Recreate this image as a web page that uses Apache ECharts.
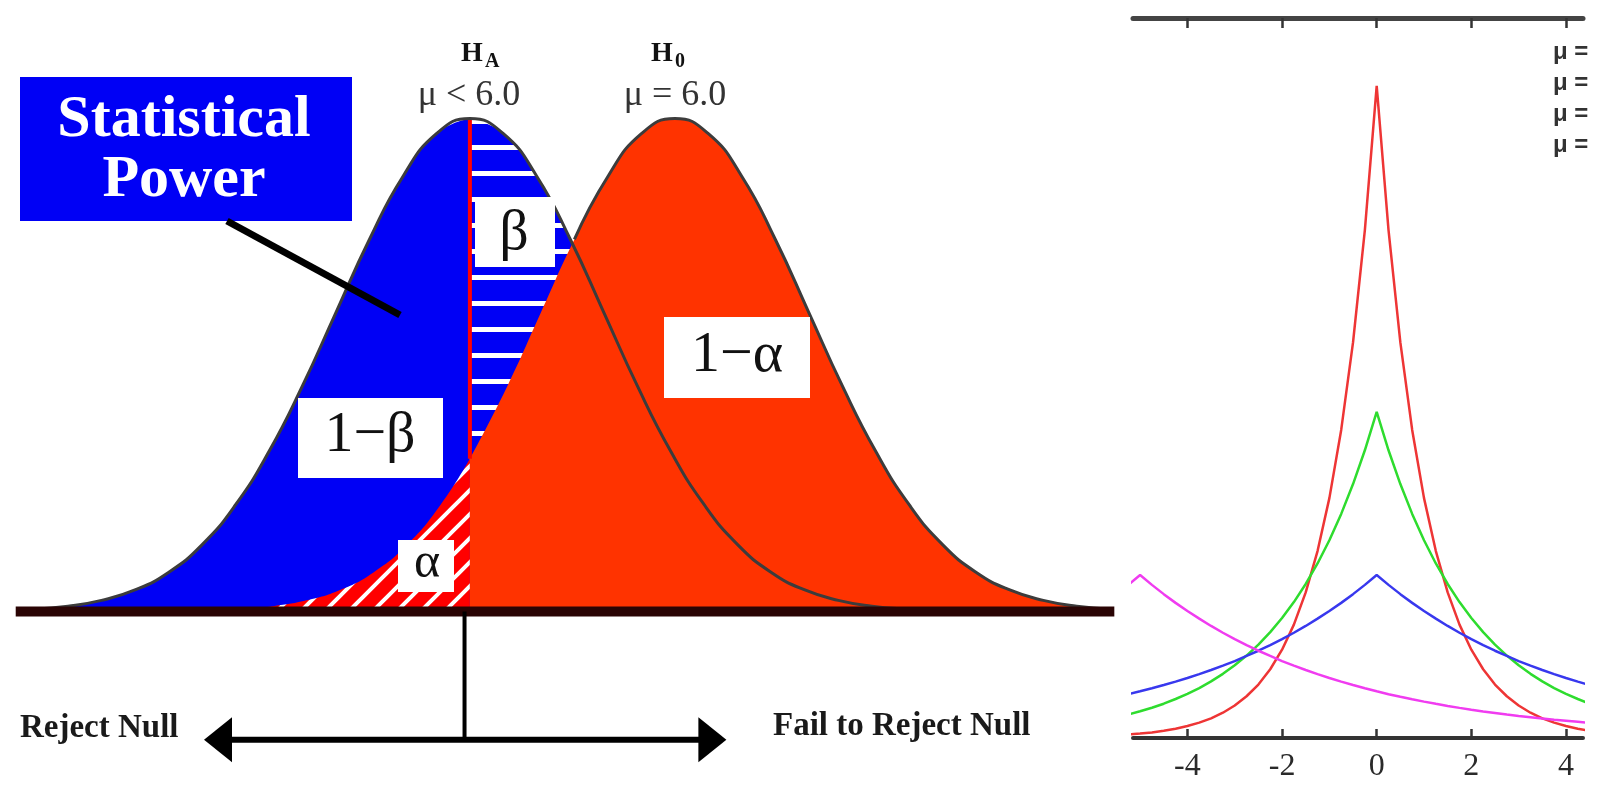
<!DOCTYPE html>
<html><head><meta charset="utf-8">
<script src="https://cdn.jsdelivr.net/npm/echarts@6/dist/echarts.min.js"></script>
<style>html,body{margin:0;padding:0;background:#fff}#c{width:1600px;height:800px}</style>
</head><body><div id="c"></div>
<script>
// ---------- Left panel: hypothesis test diagram (x in sigma units, H0 mean 6.0) ----------
const haX = [0.72,0.97,1.22,1.47,1.72,1.97,2.22,2.47,2.72,2.97,3.22,3.47,3.72,3.97,4.22,4.47,4.72,4.97,5.22,5.47,5.72,5.97,6.22,6.47,6.72,6.97,7.22,7.47,7.72,7.97,8.22];
const haY = [0.0004,0.0009,0.0020,0.0044,0.0091,0.0175,0.0317,0.0540,0.0863,0.1295,0.1826,0.2420,0.3011,0.3521,0.3867,0.3989,0.3867,0.3521,0.3011,0.2420,0.1826,0.1295,0.0863,0.0540,0.0317,0.0175,0.0091,0.0044,0.0020,0.0009,0.0004];
const h0X = [2.25,2.5,2.75,3.0,3.25,3.5,3.75,4.0,4.25,4.47,4.75,5.0,5.25,5.5,5.75,6.0,6.25,6.5,6.75,7.0,7.25,7.5,7.75,8.0,8.25,8.5,8.75,9.0,9.25,9.5];
const h0Y = [0.0004,0.0009,0.0020,0.0044,0.0091,0.0175,0.0317,0.0540,0.0863,0.1237,0.1826,0.2420,0.3011,0.3521,0.3867,0.3989,0.3867,0.3521,0.3011,0.2420,0.1826,0.1295,0.0863,0.0540,0.0317,0.0175,0.0091,0.0044,0.0020,0.0009];
const critValue = 4.47;       // decision cut-off
const h0OutlineFrom = 5.25;   // H0 outline visible from the curves' crossing on
const drawRange = [1.2, 9.25];
const baselineX = [1.08, 9.28];
const dividerX = 4.43;
const arrowLevel = -0.1036;
const arrowX = [2.59, 6.28];

// ---------- Right panel: Laplace densities ----------
const lapX = [-5.25,-5,-4.75,-4.5,-4.25,-4,-3.75,-3.5,-3.25,-3,-2.75,-2.5,-2.25,-2,-1.75,-1.5,-1.25,-1,-0.75,-0.5,-0.25,0,0.25,0.5,0.75,1,1.25,1.5,1.75,2,2.25,2.5,2.75,3,3.25,3.5,3.75,4,4.25,4.5];
const lapRed = [0.0026,0.0034,0.0043,0.0056,0.0071,0.0092,0.0118,0.0151,0.0194,0.0249,0.0320,0.0410,0.0527,0.0677,0.0869,0.1116,0.1433,0.1839,0.2362,0.3033,0.3894,0.5,0.3894,0.3033,0.2362,0.1839,0.1433,0.1116,0.0869,0.0677,0.0527,0.0410,0.0320,0.0249,0.0194,0.0151,0.0118,0.0092,0.0071,0.0056];
const lapGreen = [0.0181,0.0205,0.0232,0.0263,0.0299,0.0338,0.0383,0.0434,0.0492,0.0558,0.0632,0.0716,0.0812,0.0920,0.1042,0.1181,0.1338,0.1516,0.1718,0.1947,0.2206,0.25,0.2206,0.1947,0.1718,0.1516,0.1338,0.1181,0.1042,0.0920,0.0812,0.0716,0.0632,0.0558,0.0492,0.0434,0.0383,0.0338,0.0299,0.0263];
const lapBlue = [0.0336,0.0358,0.0381,0.0406,0.0432,0.0460,0.0490,0.0521,0.0555,0.0590,0.0629,0.0669,0.0712,0.0758,0.0807,0.0859,0.0915,0.0974,0.1036,0.1103,0.1174,0.125,0.1174,0.1103,0.1036,0.0974,0.0915,0.0859,0.0807,0.0758,0.0712,0.0669,0.0629,0.0590,0.0555,0.0521,0.0490,0.0460,0.0432,0.0406];
const lapMagenta = [0.1174,0.125,0.1174,0.1103,0.1036,0.0974,0.0915,0.0859,0.0807,0.0758,0.0712,0.0669,0.0629,0.0590,0.0555,0.0521,0.0490,0.0460,0.0432,0.0406,0.0381,0.0358,0.0336,0.0316,0.0297,0.0279,0.0262,0.0246,0.0231,0.0217,0.0204,0.0192,0.0180,0.0169,0.0159,0.0149,0.0140,0.0132,0.0124,0.0116];
const lapTicks = [-4,-2,0,2,4];
const lapLegend = ['μ =','μ =','μ =','μ ='];

// ---------- helpers ----------
const zip = (xs, ys) => xs.map((x, i) => [x, ys[i]]);
const inRange = p => p[0] >= drawRange[0] && p[0] <= drawRange[1];
const ha = zip(haX, haY).filter(inRange), h0 = zip(h0X, h0Y).filter(inRange);
const haLeft = ha.filter(p => p[0] <= critValue);
const haRight = ha.filter(p => p[0] >= critValue);
const h0Left = h0.filter(p => p[0] <= critValue);
const h0Right = h0.filter(p => p[0] >= critValue);
const h0Outline = h0.filter(p => p[0] >= h0OutlineFrom);
const h0AtCrit = h0Y[h0X.indexOf(critValue)];
const haPeak = Math.max.apply(null, haY);

function stripes() {
  const c = document.createElement('canvas'); c.width = 16; c.height = 26;
  const g = c.getContext('2d');
  g.fillStyle = '#0000f5'; g.fillRect(0, 0, 16, 26);
  g.fillStyle = '#ffffff'; g.fillRect(0, 15, 16, 5);
  return c;
}
function hatch() {
  const c = document.createElement('canvas'); c.width = 24; c.height = 24;
  const g = c.getContext('2d');
  g.fillStyle = '#ff0000'; g.fillRect(0, 0, 24, 24);
  g.strokeStyle = '#ffffff'; g.lineWidth = 4;
  g.beginPath();
  g.moveTo(0, 24); g.lineTo(24, 0);
  g.moveTo(-12, 12); g.lineTo(12, -12);
  g.moveTo(12, 36); g.lineTo(36, 12);
  g.stroke();
  return c;
}

const chart = echarts.init(document.getElementById('c'), null, {renderer: 'canvas'});
const serif = '"Liberation Serif", "Times New Roman", serif';

function txt(text, x, y, font, fill, align) {
  return {type: 'text', z: 100, silent: true,
    style: {text: text, x: x, y: y, font: font, fill: fill || '#111',
      textAlign: align || 'center', align: align || 'center',
      textVerticalAlign: 'middle', verticalAlign: 'middle'}};
}
function box(x, y, w, h, fill) {
  return {type: 'rect', z: 99, silent: true, shape: {x: x, y: y, width: w, height: h}, style: {fill: fill || '#ffffff'}};
}

const lapSeries = [
  ['μ=0, b=1', lapRed, '#ee3535'],
  ['μ=0, b=2', lapGreen, '#2edc2e'],
  ['μ=0, b=4', lapBlue, '#3838ee'],
  ['μ=-5, b=4', lapMagenta, '#f03cf0']
].map(s => ({
  name: s[0], type: 'line', xAxisIndex: 1, yAxisIndex: 1, data: zip(lapX, s[1]),
  showSymbol: false, smooth: false, lineStyle: {color: s[2], width: 2.5}, z: 3, silent: true
}));

const option = {
  animation: false,
  backgroundColor: '#ffffff',
  grid: [
    {left: 5, width: 1112, top: 6, height: 791},
    {left: 1133, right: 17, top: 18, bottom: 62}
  ],
  xAxis: [
    {gridIndex: 0, type: 'value', min: 1.0, max: 9.3, show: false},
    {gridIndex: 1, type: 'value', min: -5.15, max: 4.36, position: 'bottom',
      axisLine: {lineStyle: {color: '#333', width: 4}},
      axisTick: {inside: true, length: 9, lineStyle: {color: '#333', width: 2.5}, customValues: lapTicks},
      axisLabel: {customValues: lapTicks, margin: 13,
        color: '#2a2a2a', fontSize: 32, fontFamily: serif, formatter: v => String(v)},
      splitLine: {show: false}},
    {gridIndex: 1, type: 'value', min: -5.15, max: 4.36, position: 'top',
      axisLine: {lineStyle: {color: '#444', width: 5}},
      axisTick: {inside: true, length: 10, lineStyle: {color: '#333', width: 2.5}, customValues: lapTicks},
      axisLabel: {show: false}, splitLine: {show: false}}
  ],
  yAxis: [
    {gridIndex: 0, type: 'value', min: -0.15, max: 0.49, show: false},
    {gridIndex: 1, type: 'value', min: 0, max: 0.552, show: false}
  ],
  series: [
    {name: 'Statistical power (1−β)', type: 'line', data: haLeft, smooth: 0.5, showSymbol: false,
      lineStyle: {width: 0}, areaStyle: {color: '#0000f5', opacity: 1}, z: 1, silent: true},
    {name: 'β', type: 'line', data: haRight, smooth: 0.5, showSymbol: false,
      lineStyle: {width: 0}, areaStyle: {color: {image: stripes(), repeat: 'repeat'}, opacity: 1}, z: 2, silent: true},
    {name: 'α', type: 'line', data: h0Left, smooth: 0.5, showSymbol: false,
      lineStyle: {width: 0}, areaStyle: {color: {image: hatch(), repeat: 'repeat'}, opacity: 1}, z: 3, silent: true},
    {name: '1−α', type: 'line', data: h0Right, smooth: 0.5, showSymbol: false,
      lineStyle: {width: 0}, areaStyle: {color: '#ff3300', opacity: 1}, z: 4, silent: true},
    {name: 'critical', type: 'line', data: [[critValue, h0AtCrit], [critValue, haPeak]], showSymbol: false,
      lineStyle: {color: '#ff0000', width: 4}, z: 5, silent: true},
    {name: 'H_A curve', type: 'line', data: ha, smooth: 0.5, showSymbol: false,
      lineStyle: {color: '#3c3c3c', width: 3}, z: 6, silent: true},
    {name: 'H_0 curve', type: 'line', data: h0Outline, smooth: 0.5, showSymbol: false,
      lineStyle: {color: '#3c3c3c', width: 3}, z: 6, silent: true},
    {name: 'baseline', type: 'line', data: [[baselineX[0], 0], [baselineX[1], 0]], showSymbol: false,
      lineStyle: {color: '#2a0404', width: 10}, z: 8, silent: true},
    {name: 'divider', type: 'line', data: [[dividerX, 0], [dividerX, arrowLevel]], showSymbol: false,
      lineStyle: {color: '#000', width: 4}, z: 8, silent: true},
    {name: 'decision arrow', type: 'line', showSymbol: true, silent: true, z: 8,
      lineStyle: {color: '#000', width: 6}, itemStyle: {color: '#000'},
      data: [
        {value: [arrowX[0], arrowLevel], symbol: 'path://M0,5 L10,0 L10,10 Z', symbolSize: [28, 45]},
        {value: [arrowX[1], arrowLevel], symbol: 'path://M10,5 L0,0 L0,10 Z', symbolSize: [28, 45]}
      ]}
  ].concat(lapSeries),
  graphic: [
    box(20, 77, 332, 144, '#0000f5'),
    txt('Statistical', 184, 120, 'bold 60px ' + serif, '#ffffff'),
    txt('Power', 184, 180, 'bold 60px ' + serif, '#ffffff'),
    {type: 'line', z: 100, silent: true, shape: {x1: 227, y1: 221, x2: 400, y2: 315}, style: {stroke: '#000', lineWidth: 7}},
    box(475, 197, 80, 70), txt('β', 514, 234, '58px ' + serif, '#111'),
    box(298, 398, 145, 80), txt('1−β', 370, 436, '58px ' + serif, '#111'),
    box(664, 317, 146, 81), txt('1−α', 737, 356, '58px ' + serif, '#111'),
    box(398, 540, 56, 52), txt('α', 427, 564, '50px ' + serif, '#111'),
    txt('H', 472, 54, 'bold 28px ' + serif, '#111'),
    txt('A', 485, 62, 'bold 20px ' + serif, '#111', 'left'),
    txt('μ < 6.0', 469, 96, '36px ' + serif, '#333'),
    txt('H', 662, 54, 'bold 28px ' + serif, '#111'),
    txt('0', 675, 62, 'bold 20px ' + serif, '#111', 'left'),
    txt('μ = 6.0', 675, 96, '36px ' + serif, '#333'),
    txt('Reject Null', 20, 728, 'bold 33px ' + serif, '#1a1a1a', 'left'),
    txt('Fail to Reject Null', 773, 726, 'bold 33px ' + serif, '#1a1a1a', 'left')
  ].concat(lapLegend.map((t, i) => txt(t, 1553, 52 + i * 31, 'bold 24px "Liberation Sans", Arial, sans-serif', '#333', 'left')))
};
chart.setOption(option);
</script></body></html>
